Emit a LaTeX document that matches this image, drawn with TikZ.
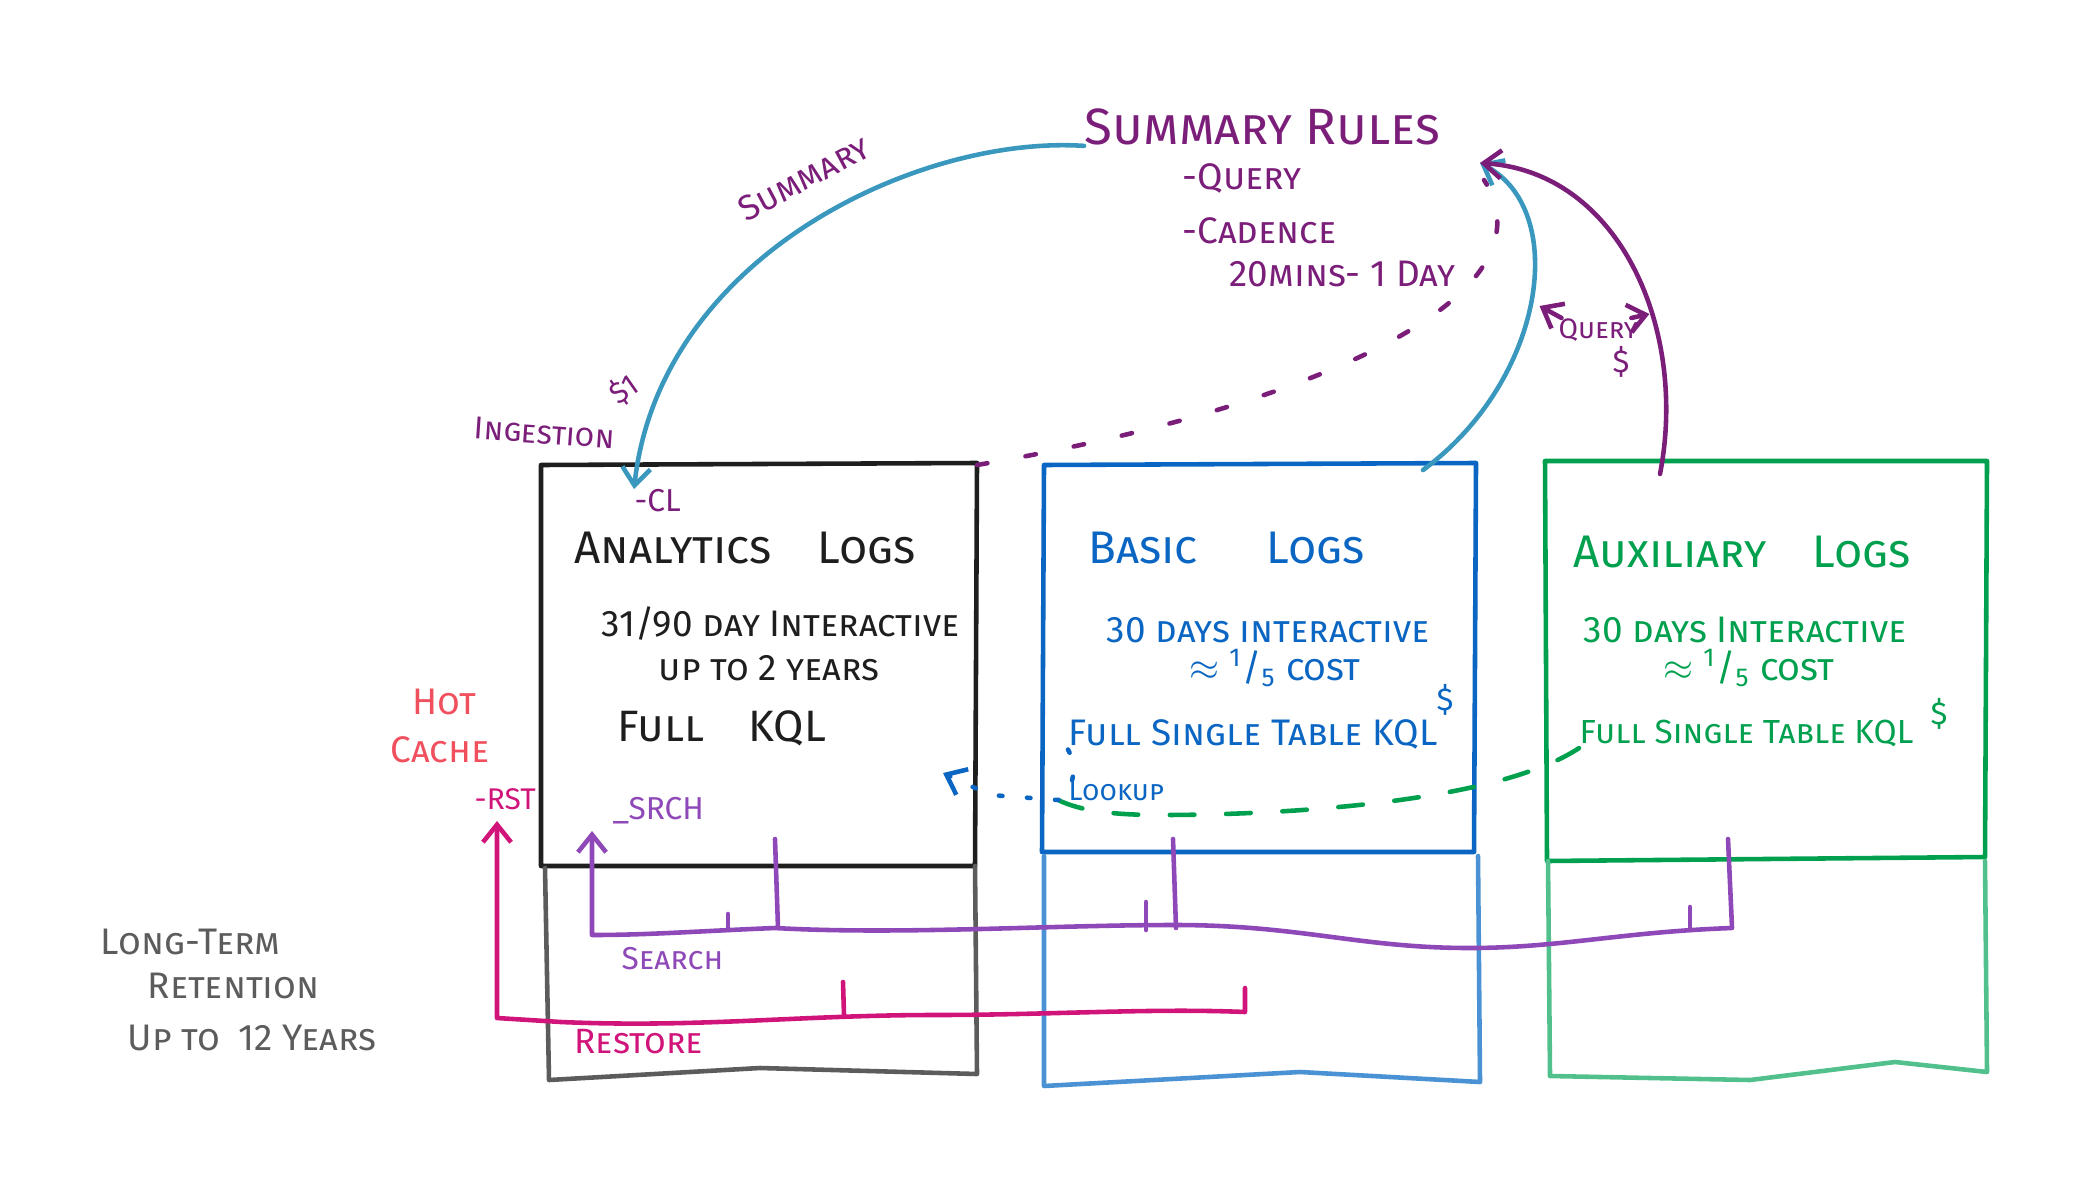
\documentclass[tikz,border=0pt]{standalone}
\usepackage{fontspec}
\setmainfont{Fira Sans}
\usetikzlibrary{arrows.meta}
\definecolor{inkblack}{HTML}{1E1E1E}
\definecolor{inkgray}{HTML}{5C5C5C}
\definecolor{inkblue}{HTML}{0A66C2}
\definecolor{paleblue}{HTML}{4A92D4}
\definecolor{inkgreen}{HTML}{00A04E}
\definecolor{palegreen}{HTML}{52C08C}
\definecolor{inkplum}{HTML}{7B1E7A}
\definecolor{inkteal}{HTML}{3A98BE}
\definecolor{inksearch}{HTML}{8E48B8}
\definecolor{inkrose}{HTML}{D0147A}
\definecolor{inkred}{HTML}{F0505E}

\begin{document}
\begin{tikzpicture}[x=0.01cm,y=-0.01cm,
  ink/.style={line width=1.3pt,line cap=round,line join=round},
  tip/.style={-{Straight Barb[length=5pt,width=8pt]}},
  title/.style={anchor=west,inner sep=0pt,font=\fontsize{13}{16}\selectfont\scshape},
  body/.style={anchor=west,inner sep=0pt,font=\fontsize{10.5}{13}\selectfont\scshape},
  note/.style={anchor=west,inner sep=0pt,font=\fontsize{9}{11}\selectfont\scshape}]
\useasboundingbox (0,0) rectangle (2094,1188);

\coordinate (anatr) at (977,465);
\coordinate (basq) at (1423,470);
\coordinate (auxq) at (1660,474);
\coordinate (rulesin) at (1480,163);
\coordinate (dotin) at (1484,180);
\coordinate (srchin) at (592,831);
\coordinate (rstin) at (497,821);
\coordinate (lookin) at (943,773);
\coordinate (lookjoin) at (1058,800);

% storage boxes
\draw[ink,inkblack] (541,866) -- (541,465) -- (977,463) -- (975,866) -- cycle;
\draw[ink,inkgray] (545,868) -- (549,1080) -- (760,1068) -- (977,1074) -- (975,866);
\draw[ink,inkblue] (1042,852) -- (1044,465) -- (1476,463) -- (1474,852) -- cycle;
\draw[ink,paleblue] (1044,856) -- (1044,1086) -- (1300,1072) -- (1480,1082) -- (1478,856);
\draw[ink,inkgreen] (1547,861) -- (1545,461) -- (1987,461) -- (1985,857) -- cycle;
\draw[ink,palegreen] (1548,861) -- (1550,1076) -- (1750,1080) -- (1895,1062) -- (1987,1072) -- (1985,861);

% text
\node[title,inkplum,font=\fontsize{14.5}{17}\selectfont\scshape] (rules) at (1084,127) {Summary Rules};
\node[body,inkplum] (rquery) at (1182,178) {-Query};
\node[body,inkplum] (rcad) at (1182,231) {-Cadence};
\node[body,inkplum] (rtime) at (1229,274) {20mins- 1 Day};
\node[note,inkplum,rotate=28,font=\fontsize{10}{12}\selectfont\scshape] (sumlbl) at (740,212) {Summary};
\node[note,inkplum,rotate=-4] (inglbl) at (474,428) {Ingestion};
\node[note,inkplum,rotate=35,font=\fontsize{8.5}{10}\selectfont\scshape] (ingcost) at (612,398) {\$1};
\node[note,inkplum] (cl) at (634,501) {-CL};

\node[title,inkblack] (analbl) at (574,548) {Analytics\quad Logs};
\node[body,inkblack] (anaret) at (601,624) {31/90 day Interactive};
\node[body,inkblack] (anayrs) at (658,668) {up to 2 years};
\node[body,inkblack,font=\fontsize{12.5}{15}\selectfont\scshape] (anakql) at (617,728) {Full\quad KQL};
\node[note,inksearch] (srch) at (612,811) {\_SRCH};

\node[title,inkblue] (baslbl) at (1088,548) {Basic\quad\enspace Logs};
\node[body,inkblue] (basret) at (1106,630) {30 days interactive};
\node[body,inkblue] (bascost) at (1189,668) {$\approx$ \textsuperscript{1}/\textsubscript{5} cost};
\node[body,inkblue] (baskql) at (1068,734) {Full Single Table KQL};
\node[note,inkblue] (bascharge) at (1436,700) {\$};
\node[note,inkblue,font=\fontsize{8}{10}\selectfont\scshape] (looklbl) at (1068,791) {Lookup};

\node[title,inkgreen] (auxlbl) at (1573,552) {Auxiliary\quad Logs};
\node[body,inkgreen] (auxret) at (1583,630) {30 days Interactive};
\node[body,inkgreen] (auxcost) at (1663,668) {$\approx$ \textsuperscript{1}/\textsubscript{5} cost};
\node[body,inkgreen,font=\fontsize{9.5}{12}\selectfont\scshape] (auxkql) at (1579,734) {Full Single Table KQL};
\node[note,inkgreen] (auxcharge) at (1930,714) {\$};

\node[note,inkplum,font=\fontsize{8}{10}\selectfont\scshape] (qlbl) at (1558,330) {Query};
\node[note,inkplum] (qcost) at (1612,362) {\$};

\node[body,inkred] (hot) at (412,702) {Hot};
\node[body,inkred] (cache) at (390,750) {Cache};
\node[note,inkrose,font=\fontsize{8.5}{10}\selectfont\scshape] (rst) at (474,799) {-RST};
\node[body,inkgray] (ltr) at (100,942) {Long-Term};
\node[body,inkgray] (ltr2) at (147,986) {Retention};
\node[body,inkgray] (ltr3) at (127,1038) {Up to\enspace 12 Years};
\node[note,inksearch] (srchlbl) at (621,959) {Search};
\node[note,inkrose,font=\fontsize{10}{12}\selectfont\scshape] (rstlbl) at (574,1042) {Restore};

% summary and query flows
\draw[ink,inkteal,tip] (rules.south west) .. controls (920,135) and (660,255) .. (cl.north west);
\draw[ink,inkteal,tip] (basq) .. controls (1545,380) and (1570,210) .. (rulesin);
\draw[ink,inkplum,tip] (auxq) .. controls (1688,330) and (1620,172) .. (rulesin);
\draw[ink,inkplum,dash pattern=on 3pt off 11pt] (anatr) .. controls (1300,410) and (1560,300) .. (dotin);
\draw[ink,inkplum,tip] ([xshift=1pt]qlbl.north west) -- ++(-22,-12);
\draw[ink,inkplum,tip] ([xshift=-2pt]qlbl.north east) -- ++(18,-4);

% lookup
\draw[ink,inkgreen,dash pattern=on 7pt off 9pt] (auxkql.south west) .. controls (1500,800) and (1300,815) .. (1160,815) .. controls (1100,815) and (1075,808) .. (lookjoin);
\draw[ink,inkblue,dash pattern=on 1pt off 7pt,tip] (baskql.south west) .. controls (1080,770) and (1070,795) .. (lookjoin) -- (990,795) -- (lookin);

% search and restore
\draw[ink,inksearch,tip] (1728,839) -- (1732,928) .. controls (1620,932) and (1560,948) .. (1469,948) .. controls (1360,948) and (1300,925) .. (1175,925) .. controls (1050,925) and (900,935) .. (775,928) .. controls (700,931) and (650,935) .. (592,935) -- (srchin);
\foreach \tx/\ty in {728/914, 1146/902, 1690/907}
  \draw[ink,inksearch] (\tx,\ty) -- (\tx,930);
\foreach \tx in {775, 1173}
  \draw[ink,inksearch] (\tx,839) -- (\tx+3,928);
\draw[ink,inkrose,tip] (1245,988) -- (1245,1012) .. controls (1150,1008) and (1050,1015) .. (935,1015) .. controls (800,1015) and (700,1028) .. (561,1022) -- (497,1018) -- (rstin);
\draw[ink,inkrose] (843,982) -- (844,1015);
\end{tikzpicture}
\end{document}
